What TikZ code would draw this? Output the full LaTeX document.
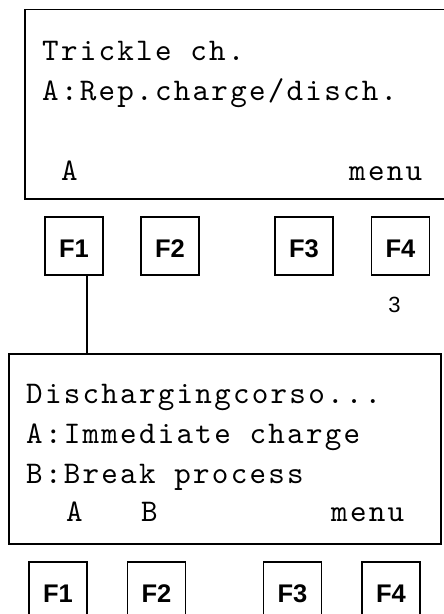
\documentclass[tikz,border=0pt]{standalone}
\usepackage{fontspec}
\setmainfont{Liberation Sans}
\newfontfamily\keyfont{Liberation Sans}
\newfontfamily\lcdfont{lmmono10-regular.otf}[LetterSpace=7.2]
\begin{document}
\begin{tikzpicture}[x=1pt,y=-1pt,
  screen/.style={draw=black,line width=1.5pt},
  lcd/.style={inner sep=0pt,anchor=base west,font=\lcdfont\fontsize{31.5}{36}\selectfont},
  fkey/.style={draw=black,line width=1.5pt,minimum width=58pt,minimum height=58pt,
    inner sep=0pt,text height=22pt,text depth=0pt,
    font=\keyfont\bfseries\fontsize{25.5}{28}\selectfont},
  wire/.style={draw=black,line width=1.5pt}]
\useasboundingbox (0,0) rectangle (444,614);

% upper display
\draw[screen] (25,9.5) rectangle (447,199);
\node[lcd] (t1) at (42,60) {Trickle ch.};
\node[lcd] (t2) at (42,100) {A:Rep.charge/disch.};
\node[lcd] (ta) at (61,180) {A};
\node[lcd] (tm) at (349,180) {menu};

% upper function keys
\node[fkey] (k1) at (74,246) {F1};
\node[fkey] (k2) at (170,246) {F2};
\node[fkey] (k3) at (304,246) {F3};
\node[fkey] (k4) at (400.5,246) {F4};
\node[font=\keyfont\fontsize{22}{24}\selectfont,inner sep=0pt] (n3) at (394.5,305.3) {3};

% lower display
\node[draw=black,line width=1.5pt,minimum width=432pt,minimum height=190pt,inner sep=0pt]
  (scr2) at (225,449) {};
\node[lcd] (b1) at (26,403.3) {Dischargingcorso...};
\node[lcd] (b2) at (26,443.3) {A:Immediate charge};
\node[lcd] (b3) at (26,483.3) {B:Break process};
\node[lcd] (ba) at (66,521.7) {A};
\node[lcd] (bb) at (141,521.7) {B};
\node[lcd] (bm) at (331,521.7) {menu};

% F1 leads to the lower display
\draw[wire] (k1.south -| 87,0) -- (scr2.north -| 87,0);

% lower function keys
\node[fkey] (m1) at (58,591) {F1};
\node[fkey] (m2) at (156.5,591) {F2};
\node[fkey] (m3) at (292.5,591) {F3};
\node[fkey] (m4) at (391,591) {F4};
\end{tikzpicture}
\end{document}
